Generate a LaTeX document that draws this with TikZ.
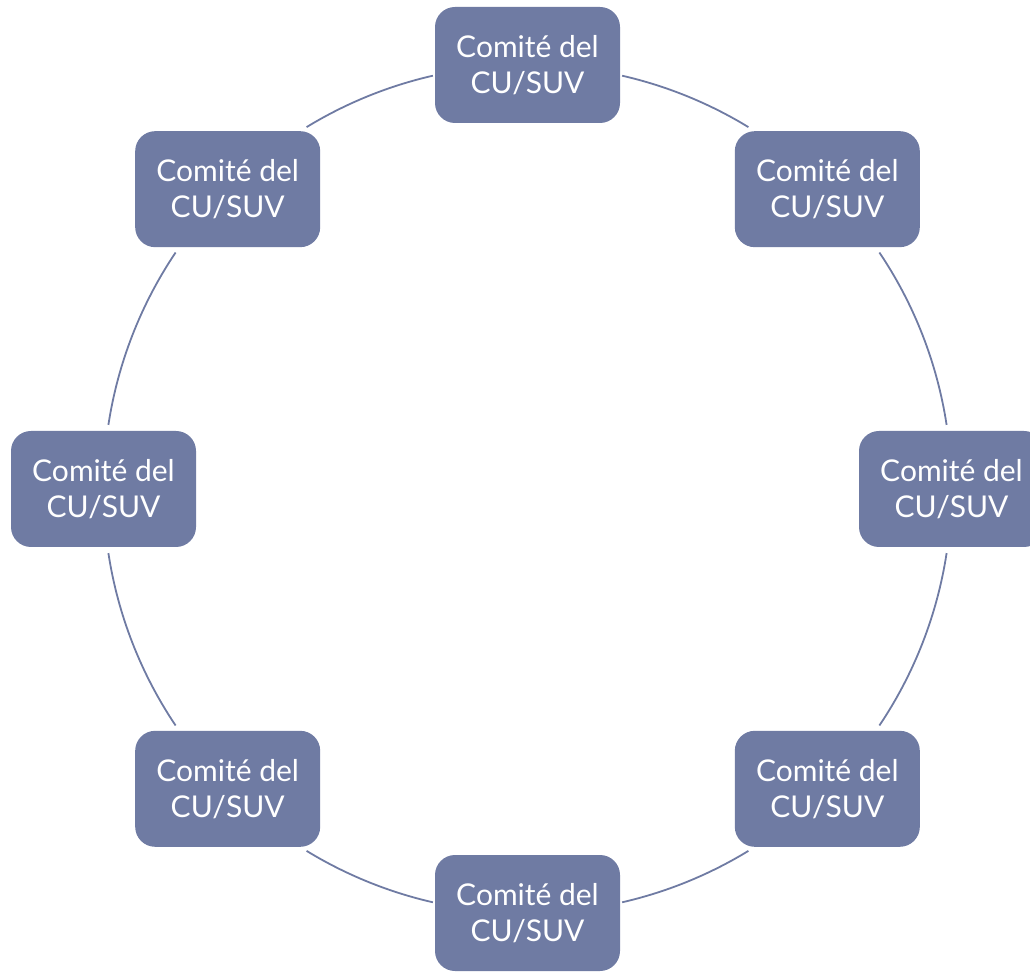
\documentclass[tikz,border=0pt]{standalone}
\usepackage{fontspec}
\setmainfont{Lato}
\usetikzlibrary{calc}
\definecolor{boxblue}{HTML}{6F7BA3}
\begin{document}
\begin{tikzpicture}[x=1pt,y=1pt,
  cbox/.style={draw=none,fill=boxblue,rounded corners=20pt,minimum width=185pt,minimum height=116pt,
    text=white,align=center,inner sep=0pt,font=\fontsize{30}{36}\selectfont},
  ring/.style={draw=boxblue,line width=1.8pt}]
\useasboundingbox (0,0) rectangle (1030,972);
\coordinate (c) at (527.5,483);
\foreach \n/\a in {t/90,tr/45,r/0,br/-45,b/-90,bl/-135,l/180,tl/135}{
  \node[cbox] (\n) at ($(c)+(\a:424)$) {Comité del\\CU/SUV};
}
\foreach \s/\e in {77.1/58.6, 33.9/8.7, -8.7/-33.9, -58.6/-77.1, -102.9/-121.4, -146.1/-171.3, 171.3/146.1, 121.4/102.9}{
  \draw[ring] ($(c)+(\s:424)$) arc[start angle=\s,end angle=\e,radius=424];
}
\end{tikzpicture}
\end{document}
